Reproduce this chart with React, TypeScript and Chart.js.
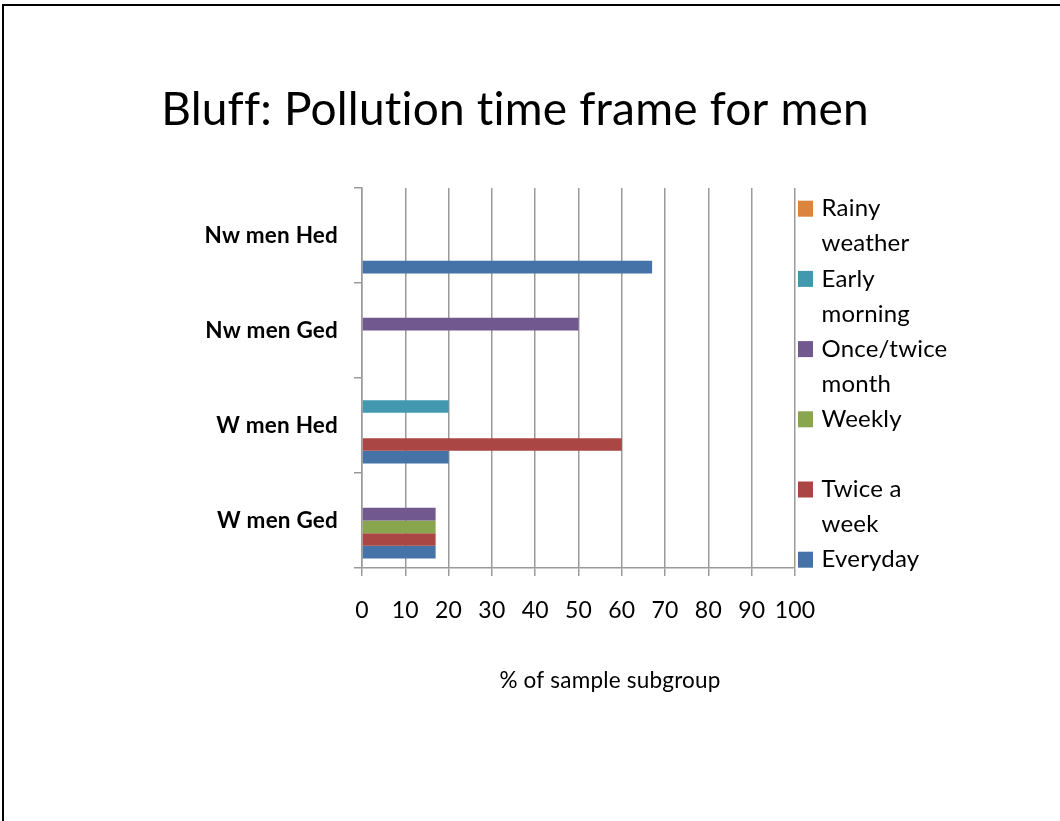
import React, { useEffect, useRef } from 'react';
import { Chart, registerables } from 'chart.js';

Chart.register(...registerables);

// ---- Data ----
const categories = ['Nw men Hed', 'Nw men Ged', 'W men Hed', 'W men Ged'];

const rainyWeather = [0, 0, 0, 0];
const earlyMorning = [0, 0, 20, 0];
const onceTwiceMonth = [0, 50, 0, 17];
const weekly = [0, 0, 0, 17];
const twiceAWeek = [0, 0, 60, 17];
const everyday = [67, 0, 20, 17];

const seriesNames = ['Rainy weather', 'Early morning', 'Once/twice month', 'Weekly', 'Twice a week', 'Everyday'];
const seriesValues = [rainyWeather, earlyMorning, onceTwiceMonth, weekly, twiceAWeek, everyday];
const seriesColors = ['#DB843D', '#4198AF', '#71588F', '#89A54E', '#AA4643', '#4572A7'];

const titleText = 'Bluff: Pollution time frame for men';
const xAxisTitle = '% of sample subgroup';

const FONT = 'Lato, "Open Sans", sans-serif';
const GRID = '#9a9a9a';
const SPACING = '0.2px';

function wrapText(ctx: CanvasRenderingContext2D, text: string, maxWidth: number): string[] {
  const words = text.split(' ');
  const lines: string[] = [];
  let cur = '';
  for (const w of words) {
    const test = cur ? cur + ' ' + w : w;
    if (cur && ctx.measureText(test).width > maxWidth) {
      lines.push(cur);
      cur = w;
    } else {
      cur = test;
    }
  }
  if (cur) lines.push(cur);
  return lines;
}

export default function App() {
  const ref = useRef<HTMLCanvasElement>(null);

  useEffect(() => {
    if (!ref.current) return;

    const textSpacing = {
      id: 'textSpacing',
      beforeUpdate(chart: any) {
        (chart.ctx as any).letterSpacing = SPACING;
      },
      beforeDraw(chart: any) {
        (chart.ctx as any).letterSpacing = SPACING;
      },
    };

    const sideLegend = {
      id: 'sideLegend',
      afterDraw(chart: any) {
        const { ctx, chartArea } = chart;
        ctx.save();
        (ctx as any).letterSpacing = SPACING;
        ctx.font = `24px ${FONT}`;
        ctx.textBaseline = 'middle';
        ctx.textAlign = 'left';
        chart.data.datasets.forEach((ds: any, i: number) => {
          const y0 = chartArea.top + 20.7 + i * 70.2;
          ctx.fillStyle = ds.backgroundColor;
          ctx.fillRect(chartArea.right + 3, y0 - 8, 15, 16);
          ctx.fillStyle = '#000';
          const lines = wrapText(ctx, ds.label, 135);
          lines.forEach((ln, j) => ctx.fillText(ln, chartArea.right + 26.5, y0 + j * 35));
        });
        // x-axis title (offset to the right of the plot centre, as in the original)
        ctx.font = `22.5px ${FONT}`;
        ctx.textAlign = 'center';
        ctx.textBaseline = 'alphabetic';
        ctx.fillText(xAxisTitle, chartArea.left + 248, chartArea.bottom + 120);
        ctx.restore();
      },
    };

    const chart = new Chart(ref.current, {
      type: 'bar',
      data: {
        labels: categories,
        datasets: seriesNames.map((name, i) => ({
          label: name,
          data: seriesValues[i],
          backgroundColor: seriesColors[i],
          borderWidth: 0,
          categoryPercentage: 0.8,
          barPercentage: 1.0,
        })),
      },
      options: {
        indexAxis: 'y',
        responsive: false,
        devicePixelRatio: 1,
        animation: false,
        layout: { padding: { left: 0, right: 30, top: 0, bottom: 113 } },
        plugins: {
          legend: { display: false },
          tooltip: { enabled: false },
          title: {
            display: true,
            text: titleText,
            color: '#000',
            font: { family: FONT, size: 46, weight: 'normal', lineHeight: 1.2 },
            padding: { top: 83, bottom: 49.8 },
          },
        },
        scales: {
          y: {
            type: 'category',
            position: 'left',
            grid: {
              display: true,
              drawOnChartArea: false,
              drawTicks: true,
              tickLength: 8,
              color: GRID,
              lineWidth: 1.5,
              offset: true,
            },
            border: { display: true, color: GRID, width: 1.5 },
            ticks: {
              color: '#000',
              font: { family: FONT, size: 22.5, weight: 'bold' },
              padding: 16,
            },
            afterFit(scale: any) {
              scale.width = 362;
            },
          },
          legendSpace: {
            axis: 'y',
            type: 'linear',
            position: 'right',
            display: true,
            grid: { display: false, drawTicks: false },
            border: { display: false },
            ticks: { display: false },
            afterFit(scale: any) {
              scale.width = 235;
            },
          },
          x: {
            type: 'linear',
            min: 0,
            max: 100,
            grid: { color: GRID, lineWidth: 1.5, drawTicks: true, tickLength: 8 },
            border: { display: true, color: GRID, width: 1.5 },
            ticks: {
              stepSize: 10,
              color: '#000',
              font: { family: FONT, size: 23 },
              padding: 21,
              maxRotation: 0,
              autoSkip: false,
            },
            title: { display: false },
            afterFit(scale: any) {
              scale.height = 140;
            },
          },
        },
      },
      plugins: [textSpacing, sideLegend],
    } as any);

    return () => chart.destroy();
  }, []);

  return (
    <div style={{ position: 'absolute', left: 0, top: 0, width: 1060, height: 821, background: '#fff', overflow: 'hidden' }}>
      <canvas ref={ref} width={1060} height={821} style={{ position: 'absolute', left: 0, top: 0, display: 'block' }} />
      <div
        style={{
          position: 'absolute',
          left: 2,
          top: 4,
          width: 1058,
          height: 817,
          borderTop: '2px solid #000',
          borderLeft: '2px solid #000',
          boxSizing: 'border-box',
          pointerEvents: 'none',
        }}
      />
    </div>
  );
}
